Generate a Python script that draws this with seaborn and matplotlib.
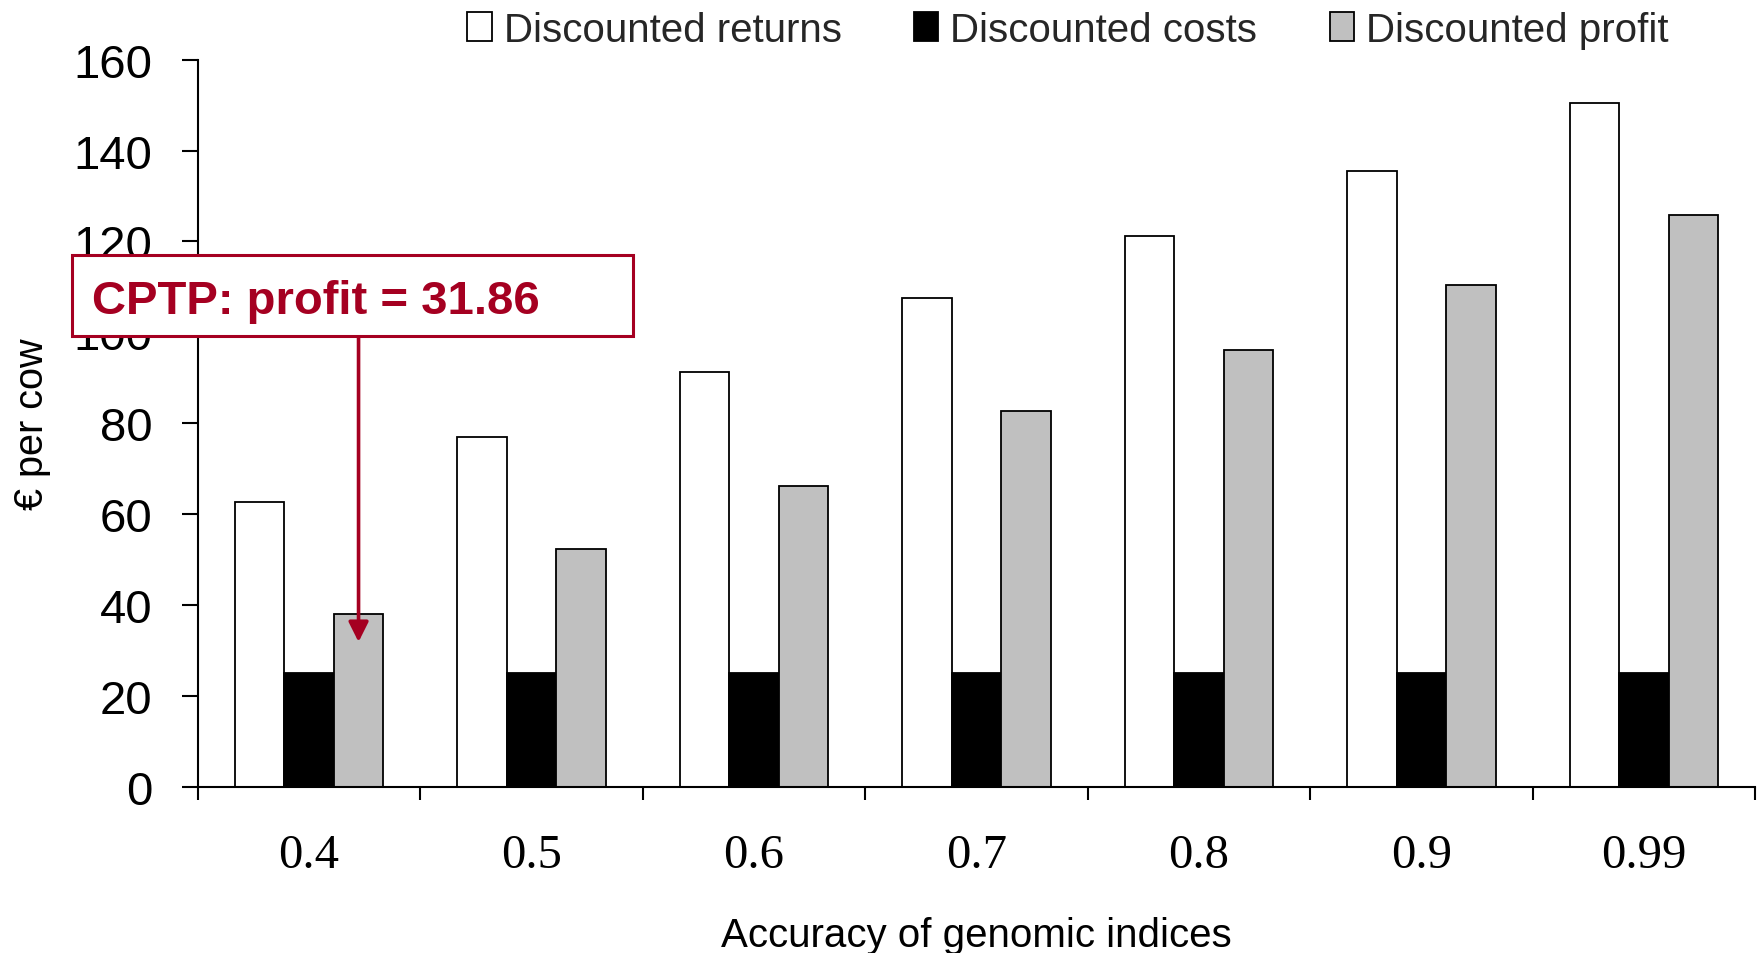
import matplotlib
matplotlib.use("Agg")
import matplotlib.pyplot as plt
from matplotlib.patches import Rectangle
import numpy as np
import pandas as pd
import seaborn as sns

# Values per accuracy level (EUR per cow)
accuracy = ["0.4", "0.5", "0.6", "0.7", "0.8", "0.9", "0.99"]
returns = [62.6, 77.0, 91.3, 107.6, 121.2, 135.5, 150.5]
costs = [25.1, 25.1, 25.1, 25.1, 25.1, 25.1, 25.1]
profit = [38.0, 52.4, 66.1, 82.6, 96.2, 110.5, 125.9]
series = ["Discounted returns", "Discounted costs", "Discounted profit"]
colors = ["#FFFFFF", "#000000", "#C0C0C0"]
cptp_profit = 31.86
yticks = [0, 20, 40, 60, 80, 100, 120, 140, 160]

df = pd.DataFrame({
    "accuracy": accuracy * 3,
    "value": returns + costs + profit,
    "series": [series[0]] * 7 + [series[1]] * 7 + [series[2]] * 7,
})

sns.set_theme(style="white")
plt.rcParams["font.family"] = ["Liberation Sans", "DejaVu Sans"]

fig = plt.figure(figsize=(17.62, 9.54), dpi=100)
ax = fig.add_axes([0.1123, 0.1743, 0.8838, 0.7621])

sns.barplot(data=df, x="accuracy", y="value", hue="series", order=accuracy,
            hue_order=series, palette=colors, saturation=1, width=2 / 3,
            edgecolor="black", linewidth=1.3, errorbar=None, ax=ax)

ax.set_xlim(-0.5, len(accuracy) - 0.5)
ax.set_ylim(0, 160)
ax.set_yticks(yticks)
ax.set_yticklabels([str(v) for v in yticks])

# group separators as major ticks, category labels on minor ticks
ax.set_xticks(np.arange(-0.5, len(accuracy), 1.0))
ax.set_xticklabels([""] * (len(accuracy) + 1))
ax.set_xticks(np.arange(len(accuracy)), minor=True)
ax.set_xticklabels(accuracy, minor=True)

ax.tick_params(axis="x", which="major", direction="out", length=9, width=1.5,
               color="black", bottom=True)
ax.tick_params(axis="x", which="minor", length=0, pad=33, labelsize=35,
               labelfontfamily="Liberation Serif", labelcolor="black",
               bottom=True)
ax.tick_params(axis="y", direction="out", length=11.5, width=1.5,
               color="black", left=True, pad=21, labelsize=34,
               labelcolor="black")

for side in ["top", "right"]:
    ax.spines[side].set_visible(False)
for side in ["left", "bottom"]:
    ax.spines[side].set_color("black")
    ax.spines[side].set_linewidth(1.5)

ax.set_xlabel("Accuracy of genomic indices", fontsize=29, color="black",
              va="top")
ax.xaxis.set_label_coords(0.5, -0.178)
ax.set_ylabel("€ per cow", fontsize=28.5, color="black", va="center")
ax.yaxis.set_label_coords(-0.1065, 0.5)

sns.move_legend(ax, "center right", bbox_to_anchor=(0.947, 0.968),
                bbox_transform=fig.transFigure, ncol=3, frameon=False,
                title=None, fontsize=29.0, handlelength=0.6,
                handleheight=0.75, handletextpad=0.3, columnspacing=1.8,
                borderpad=0, borderaxespad=0)

# callout for the CPTP profit
red = "#A50021"
box = Rectangle((-1.066, 99.2), 2.521, 17.8, transform=ax.transData,
                facecolor="white", edgecolor=red, linewidth=2.2,
                zorder=5, clip_on=False)
fig.patches.append(box)
box.set_figure(fig)
fig.text(-0.975, 104.3, "CPTP: profit = 31.86", transform=ax.transData,
         color=red, fontsize=34, fontweight="bold", ha="left",
         va="baseline", zorder=6)
ax.annotate("", xy=(2 / 9, cptp_profit), xytext=(2 / 9, 99.2),
            arrowprops=dict(arrowstyle="-|>", color=red, lw=2.6,
                            mutation_scale=30, shrinkA=0, shrinkB=0),
            zorder=4)

fig.savefig("out.png", dpi=100)
